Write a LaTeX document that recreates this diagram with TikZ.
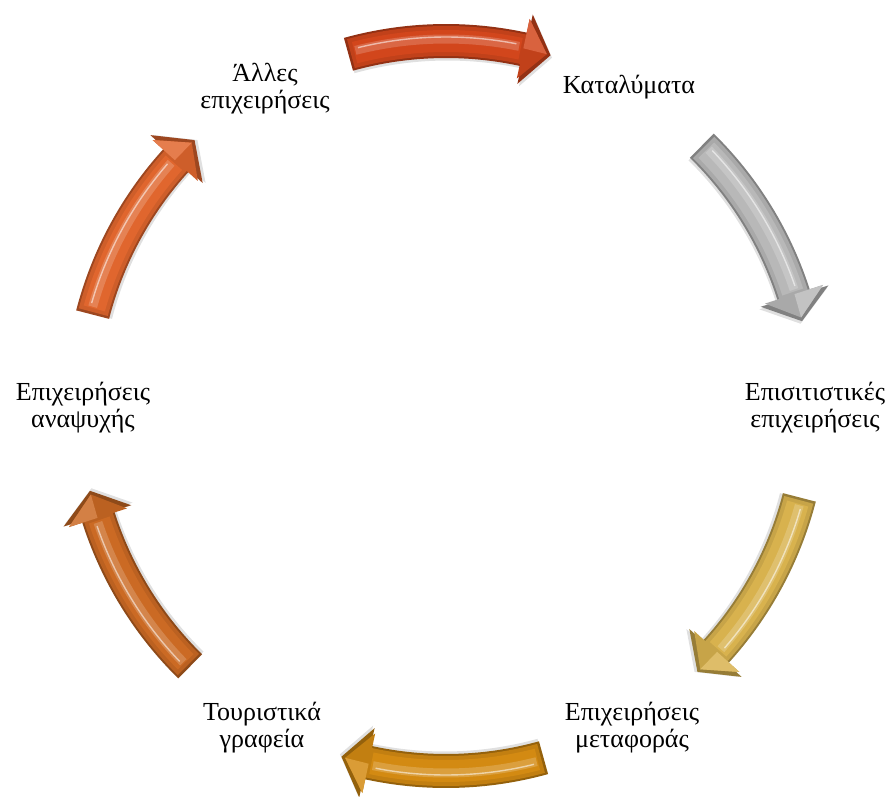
\documentclass[tikz,border=0pt]{standalone}
\usepackage{fontspec}
\setmainfont{Liberation Serif}
\definecolor{topc}{HTML}{D2461C}
\definecolor{grayc}{HTML}{B8B8B8}
\definecolor{goldc}{HTML}{D8B24E}
\definecolor{botc}{HTML}{D38A12}
\definecolor{llc}{HTML}{CB6A24}
\definecolor{ulc}{HTML}{E0662E}
\tikzset{
 arrowshape/.style={insert path={(105.5:382) arc[start angle=105.5,end angle=77.5,radius=382] -- (77.5:401) -- (73.4:366) -- (77.5:330) -- (77.5:348) arc[start angle=77.5,end angle=105.5,radius=348] -- cycle}},
 innershape/.style={insert path={(105.1:380) arc[start angle=105.1,end angle=77.8,radius=380] -- (77.8:396) -- (74.0:366) -- (77.8:335) -- (77.8:350) arc[start angle=77.8,end angle=105.1,radius=350] -- cycle}},
 lbl/.style={align=center, font=\fontsize{26}{27}\selectfont, text=black, inner sep=0pt}
}
\newcommand\cycarrow[2]{%
 \begin{scope}[rotate=#1]
  \fill[black,opacity=0.12] [shift={(1.5,-2.5)}, arrowshape];
  \fill[#2!70!black, arrowshape];
  \fill[#2!92!black, innershape];
  \draw[#2, line width=22pt] (104.5:365) arc[start angle=104.5,end angle=78.2,radius=365];
  \draw[#2!82!white, line width=9pt] (104.3:367) arc[start angle=104.3,end angle=78.5,radius=367];
  \draw[white, opacity=0.55, line width=1.4pt] (103.8:369) arc[start angle=103.8,end angle=79,radius=369];
  \fill[#2!85!white] (77.8:396) -- (74.0:366) -- (77.8:366) -- cycle;
 \end{scope}}
\begin{document}
\begin{tikzpicture}[x=1pt,y=1pt]
 \useasboundingbox[fill=white] (-446,-390) rectangle (446,406);
 \cycarrow{0}{topc}
 \cycarrow{-60}{grayc}
 \cycarrow{-120}{goldc}
 \cycarrow{-180}{botc}
 \cycarrow{-240}{llc}
 \cycarrow{-300}{ulc}
 \node[lbl] (alles) at (-181,317) {Άλλες\\επιχειρήσεις};
 \node[lbl] (katal) at (183,319) {Καταλύματα};
 \node[lbl] (episit) at (369,-2) {Επισιτιστικές\\επιχειρήσεις};
 \node[lbl] (metaf) at (186,-322) {Επιχειρήσεις\\μεταφοράς};
 \node[lbl] (tour) at (-184,-322) {Τουριστικά\\γραφεία};
 \node[lbl] (anap) at (-363,-2) {Επιχειρήσεις\\αναψυχής};
\end{tikzpicture}
\end{document}
